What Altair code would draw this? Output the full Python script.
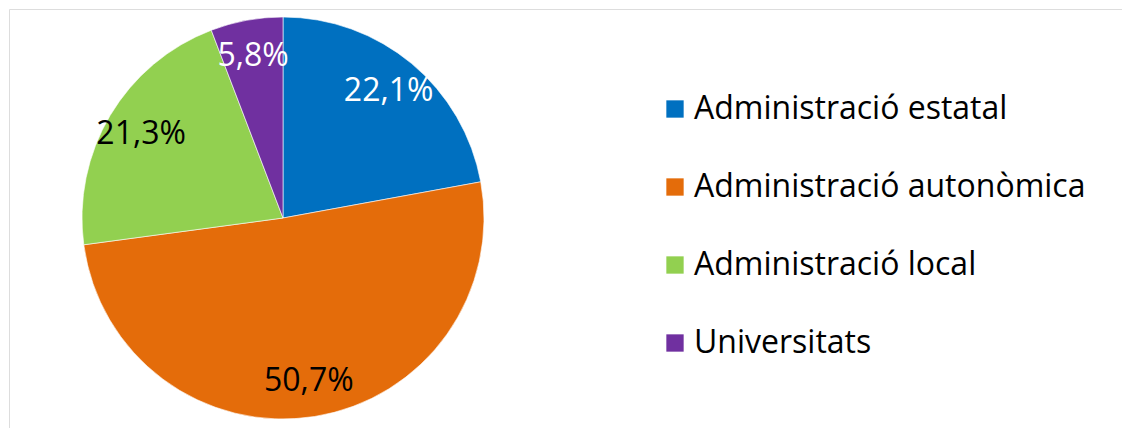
import altair as alt
import pandas as pd

categories = ["Administració estatal", "Administració autonòmica", "Administració local", "Universitats"]
values = [22.1, 50.7, 21.3, 5.8]
colors = ["#0070C0", "#E46C0A", "#92D050", "#7030A0"]
label_colors = ["#FFFFFF", "#000000", "#000000", "#FFFFFF"]

df = pd.DataFrame({
    "cat": categories,
    "value": values,
    "order": list(range(len(categories))),
    "label": [f"{v:.1f}%".replace(".", ",") for v in values],
    "lc": label_colors,
})

FONT = "Open Sans"
CX, CY, R = 274, 209, 201

base = alt.Chart(df).encode(
    theta=alt.Theta("value:Q", stack=True),
    order=alt.Order("order:Q"),
)

pie = base.mark_arc(radius=R, stroke="#FFFFFF", strokeWidth=0.6).encode(
    x=alt.value(CX),
    y=alt.value(CY),
    color=alt.Color(
        "cat:N",
        scale=alt.Scale(domain=categories, range=colors),
        sort=categories,
        legend=alt.Legend(
            title=None,
            orient="none",
            legendX=650,
            legendY=84,
            symbolType="square",
            symbolSize=300,
            symbolStrokeWidth=0,
            labelFont=FONT,
            labelFontSize=32,
            labelColor="#000000",
            labelOffset=3,
            rowPadding=46,
            padding=0,
            labelLimit=600,
        ),
    ),
)

labels = base.mark_text(radius=165, font=FONT, fontSize=32).encode(
    x=alt.value(CX),
    y=alt.value(CY),
    text="label:N",
    color=alt.Color("lc:N", scale=None),
)

chart = (
    alt.layer(pie, labels)
    .properties(width=1113, height=450, padding={"left": 1, "top": 1, "right": 0, "bottom": 0},
                autosize=alt.AutoSizeParams(type="none"))
    .configure_view(stroke="#7F7F7F", strokeWidth=3)
    .configure(background="#FFFFFF")
)

chart.save("out.html", embed_options={"renderer": "svg", "actions": False})
